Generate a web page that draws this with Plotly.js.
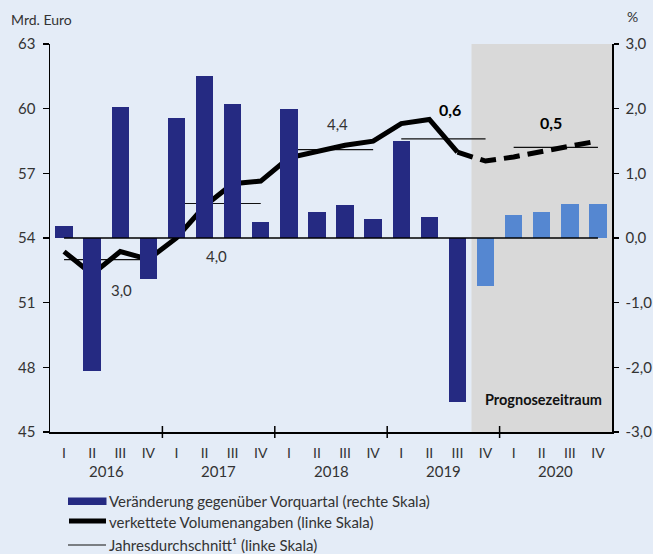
<!DOCTYPE html>
<html>
<head>
<meta charset="utf-8">
<script src="https://cdn.plot.ly/plotly-3.0.1.min.js"></script>
<style>html,body{margin:0;padding:0;background:#E4ECF7;}#chart{width:653px;height:554px;}</style>
</head>
<body>
<div id="chart"></div>
<script>
// ---- data ----
const years = ['2016', '2017', '2018', '2019', '2020'];
const quarterLabels = ['I', 'II', 'III', 'IV'];
// quarter-on-quarter change, % (right axis)
const qoqChange = [0.18, -2.06, 2.02, -0.64, 1.85, 2.50, 2.07, 0.24, 2.00, 0.40, 0.51, 0.30, 1.50, 0.32, -2.54, -0.74, 0.35, 0.40, 0.52, 0.52];
// chained volumes, bn EUR (left axis)
const chainedVolume = [53.37, 52.32, 53.37, 53.01, 54.00, 55.48, 56.52, 56.64, 57.72, 58.03, 58.30, 58.49, 59.31, 59.50, 57.98, 57.57, 57.76, 58.03, 58.26, 58.50];
// annual average, bn EUR (left axis)
const annualAverage = [53.0, 55.6, 58.1, 58.6, 58.2];
// annual growth labels
const annualGrowthLabels = ['3,0', '4,0', '4,4', '0,6', '0,5'];
const forecastStart = 15; // index of first forecast quarter (2019 IV)
const rightTickVals = [-3, -2, -1, 0, 1, 2, 3];
const rightTickText = ['-3,0', '-2,0', '-1,0', '0,0', '1,0', '2,0', '3,0'];
const leftTickVals = [45, 48, 51, 54, 57, 60, 63];
const legendLabels = ['Veränderung gegenüber Vorquartal (rechte Skala)', 'verkettete Volumenangaben (linke Skala)', 'Jahresdurchschnitt¹ (linke Skala)'];

// ---- derived ----
const nQ = qoqChange.length;
const xIdx = qoqChange.map((_, i) => i);
const qTickText = xIdx.map(i => quarterLabels[i % 4]);
const DARK = '#252A82', LIGHT = '#5587D1', FONT = 'Lato, "Noto Sans", sans-serif', TXT = '#333333';
const barColors = xIdx.map(i => i >= forecastStart ? LIGHT : DARK);

// plot geometry helpers (pixels -> paper)
const M = {l: 50, r: 41, t: 44, b: 122};
const W = 653, H = 554, PW = W - M.l - M.r, PH = H - M.t - M.b;
const px = v => (v - M.l) / PW;
const py = v => (H - M.b - v) / PH;

const traces = [];
traces.push({
  type: 'bar', x: xIdx, y: qoqChange, yaxis: 'y2', width: 0.62,
  marker: {color: barColors, line: {width: 0}}, showlegend: false, hoverinfo: 'skip'
});
// zero line of bars
traces.push({
  type: 'scatter', mode: 'lines', x: [xIdx[0], xIdx[nQ - 1]], y: [0, 0], yaxis: 'y2',
  line: {color: '#000', width: 1.5}, showlegend: false, hoverinfo: 'skip'
});
// annual averages
const avgX = [], avgY = [];
annualAverage.forEach((v, k) => { avgX.push(4 * k, 4 * k + 3, null); avgY.push(v, v, null); });
traces.push({
  type: 'scatter', mode: 'lines', x: avgX, y: avgY, yaxis: 'y',
  line: {color: '#111', width: 1.2}, showlegend: false, hoverinfo: 'skip', connectgaps: false
});
// chained volumes - actual and forecast
const lastActual = forecastStart - 1;
traces.push({
  type: 'scatter', mode: 'lines', x: xIdx.slice(0, lastActual + 1), y: chainedVolume.slice(0, lastActual + 1), yaxis: 'y',
  line: {color: '#000', width: 5}, showlegend: false, hoverinfo: 'skip'
});
traces.push({
  type: 'scatter', mode: 'lines', x: xIdx.slice(lastActual), y: chainedVolume.slice(lastActual), yaxis: 'y',
  line: {color: '#000', width: 5, dash: '16px,8px'}, showlegend: false, hoverinfo: 'skip'
});

const shapes = [
  {type: 'rect', xref: 'x', yref: 'paper', x0: forecastStart - 0.5, x1: nQ - 0.5, y0: 0, y1: 1,
   fillcolor: '#D9D9D9', line: {width: 0}, layer: 'below'}
];
// year boundary tick marks crossing the x axis
for (let k = 1; k < years.length; k++) {
  shapes.push({type: 'line', xref: 'x', yref: 'paper', x0: 4 * k - 0.5, x1: 4 * k - 0.5, y0: -6 / PH, y1: 6 / PH, line: {color: '#000', width: 1.5}});
}
// legend symbols
shapes.push({type: 'rect', xref: 'paper', yref: 'paper', x0: px(68), x1: px(106.5), y0: py(505), y1: py(497.5), fillcolor: DARK, line: {width: 0}});
shapes.push({type: 'line', xref: 'paper', yref: 'paper', x0: px(69), x1: px(106), y0: py(521), y1: py(521), line: {color: '#000', width: 5}});
shapes.push({type: 'line', xref: 'paper', yref: 'paper', x0: px(68), x1: px(106), y0: py(545), y1: py(545), line: {color: '#111', width: 1.2}});

const annotations = [];
years.forEach((yr, k) => annotations.push({
  xref: 'x', yref: 'paper', x: 4 * k + 1.5, y: py(471), text: yr, showarrow: false,
  xanchor: 'center', yanchor: 'middle', font: {family: FONT, size: 15, color: TXT}
}));
// annual growth labels
const gPos = [[2.06, 51.6, false], [5.41, 53.15, false], [9.72, 59.27, false], [13.75, 59.96, true], [17.34, 59.35, true]];
annualGrowthLabels.forEach((t, k) => annotations.push({
  xref: 'x', yref: 'y', x: gPos[k][0], y: gPos[k][1], text: gPos[k][2] ? '<b>' + t + '</b>' : t, showarrow: false,
  xanchor: 'center', yanchor: 'middle',
  font: {family: FONT, size: gPos[k][2] ? 16 : 15, color: gPos[k][2] ? '#000' : TXT}
}));
annotations.push({xref: 'x', yref: 'paper', x: 19.2, y: py(399), text: '<b>Prognosezeitraum</b>', showarrow: false,
  xanchor: 'right', yanchor: 'middle', font: {family: FONT, size: 14.5, color: '#111'}});
annotations.push({xref: 'paper', yref: 'paper', x: px(9), y: py(19), text: 'Mrd. Euro', showarrow: false,
  xanchor: 'left', yanchor: 'middle', font: {family: FONT, size: 14, color: TXT}});
annotations.push({xref: 'paper', yref: 'paper', x: px(632), y: py(16), text: '%', showarrow: false,
  xanchor: 'center', yanchor: 'middle', font: {family: FONT, size: 14, color: TXT}});
const legY = [501, 522, 545];
legendLabels.forEach((t, k) => annotations.push({xref: 'paper', yref: 'paper', x: px(107), y: py(legY[k]), text: t, showarrow: false,
  xanchor: 'left', yanchor: 'middle', font: {family: FONT, size: 15, color: TXT}}));

const layout = {
  width: W, height: H, margin: M,
  paper_bgcolor: '#E4ECF7', plot_bgcolor: 'rgba(0,0,0,0)',
  showlegend: false, bargap: 0,
  xaxis: {range: [-0.5, nQ - 0.5], tickvals: xIdx, ticktext: qTickText, ticks: '', showline: true, linecolor: '#000', linewidth: 1.5,
    showgrid: false, zeroline: false, fixedrange: true, ticklabelstandoff: 8, tickfont: {family: FONT, size: 14, color: TXT}},
  yaxis: {range: [45, 63], tickvals: leftTickVals, ticks: 'outside', ticklen: 6, tickwidth: 1.5, tickcolor: '#000', showline: true, linecolor: '#000', linewidth: 1.5,
    showgrid: false, zeroline: false, tickfont: {family: FONT, size: 15, color: TXT}, ticklabelstandoff: 4},
  yaxis2: {range: [-3, 3], overlaying: 'y', side: 'right', tickvals: rightTickVals, ticktext: rightTickText, ticks: 'outside', ticklen: 5, tickwidth: 1.5, tickcolor: '#000',
    showline: true, linecolor: '#000', linewidth: 1.5, showgrid: false, zeroline: false, tickfont: {family: FONT, size: 15, color: TXT}, ticklabelstandoff: 4},
  shapes: shapes, annotations: annotations
};
Plotly.newPlot('chart', traces, layout, {staticPlot: true, displayModeBar: false});
</script>
</body>
</html>
